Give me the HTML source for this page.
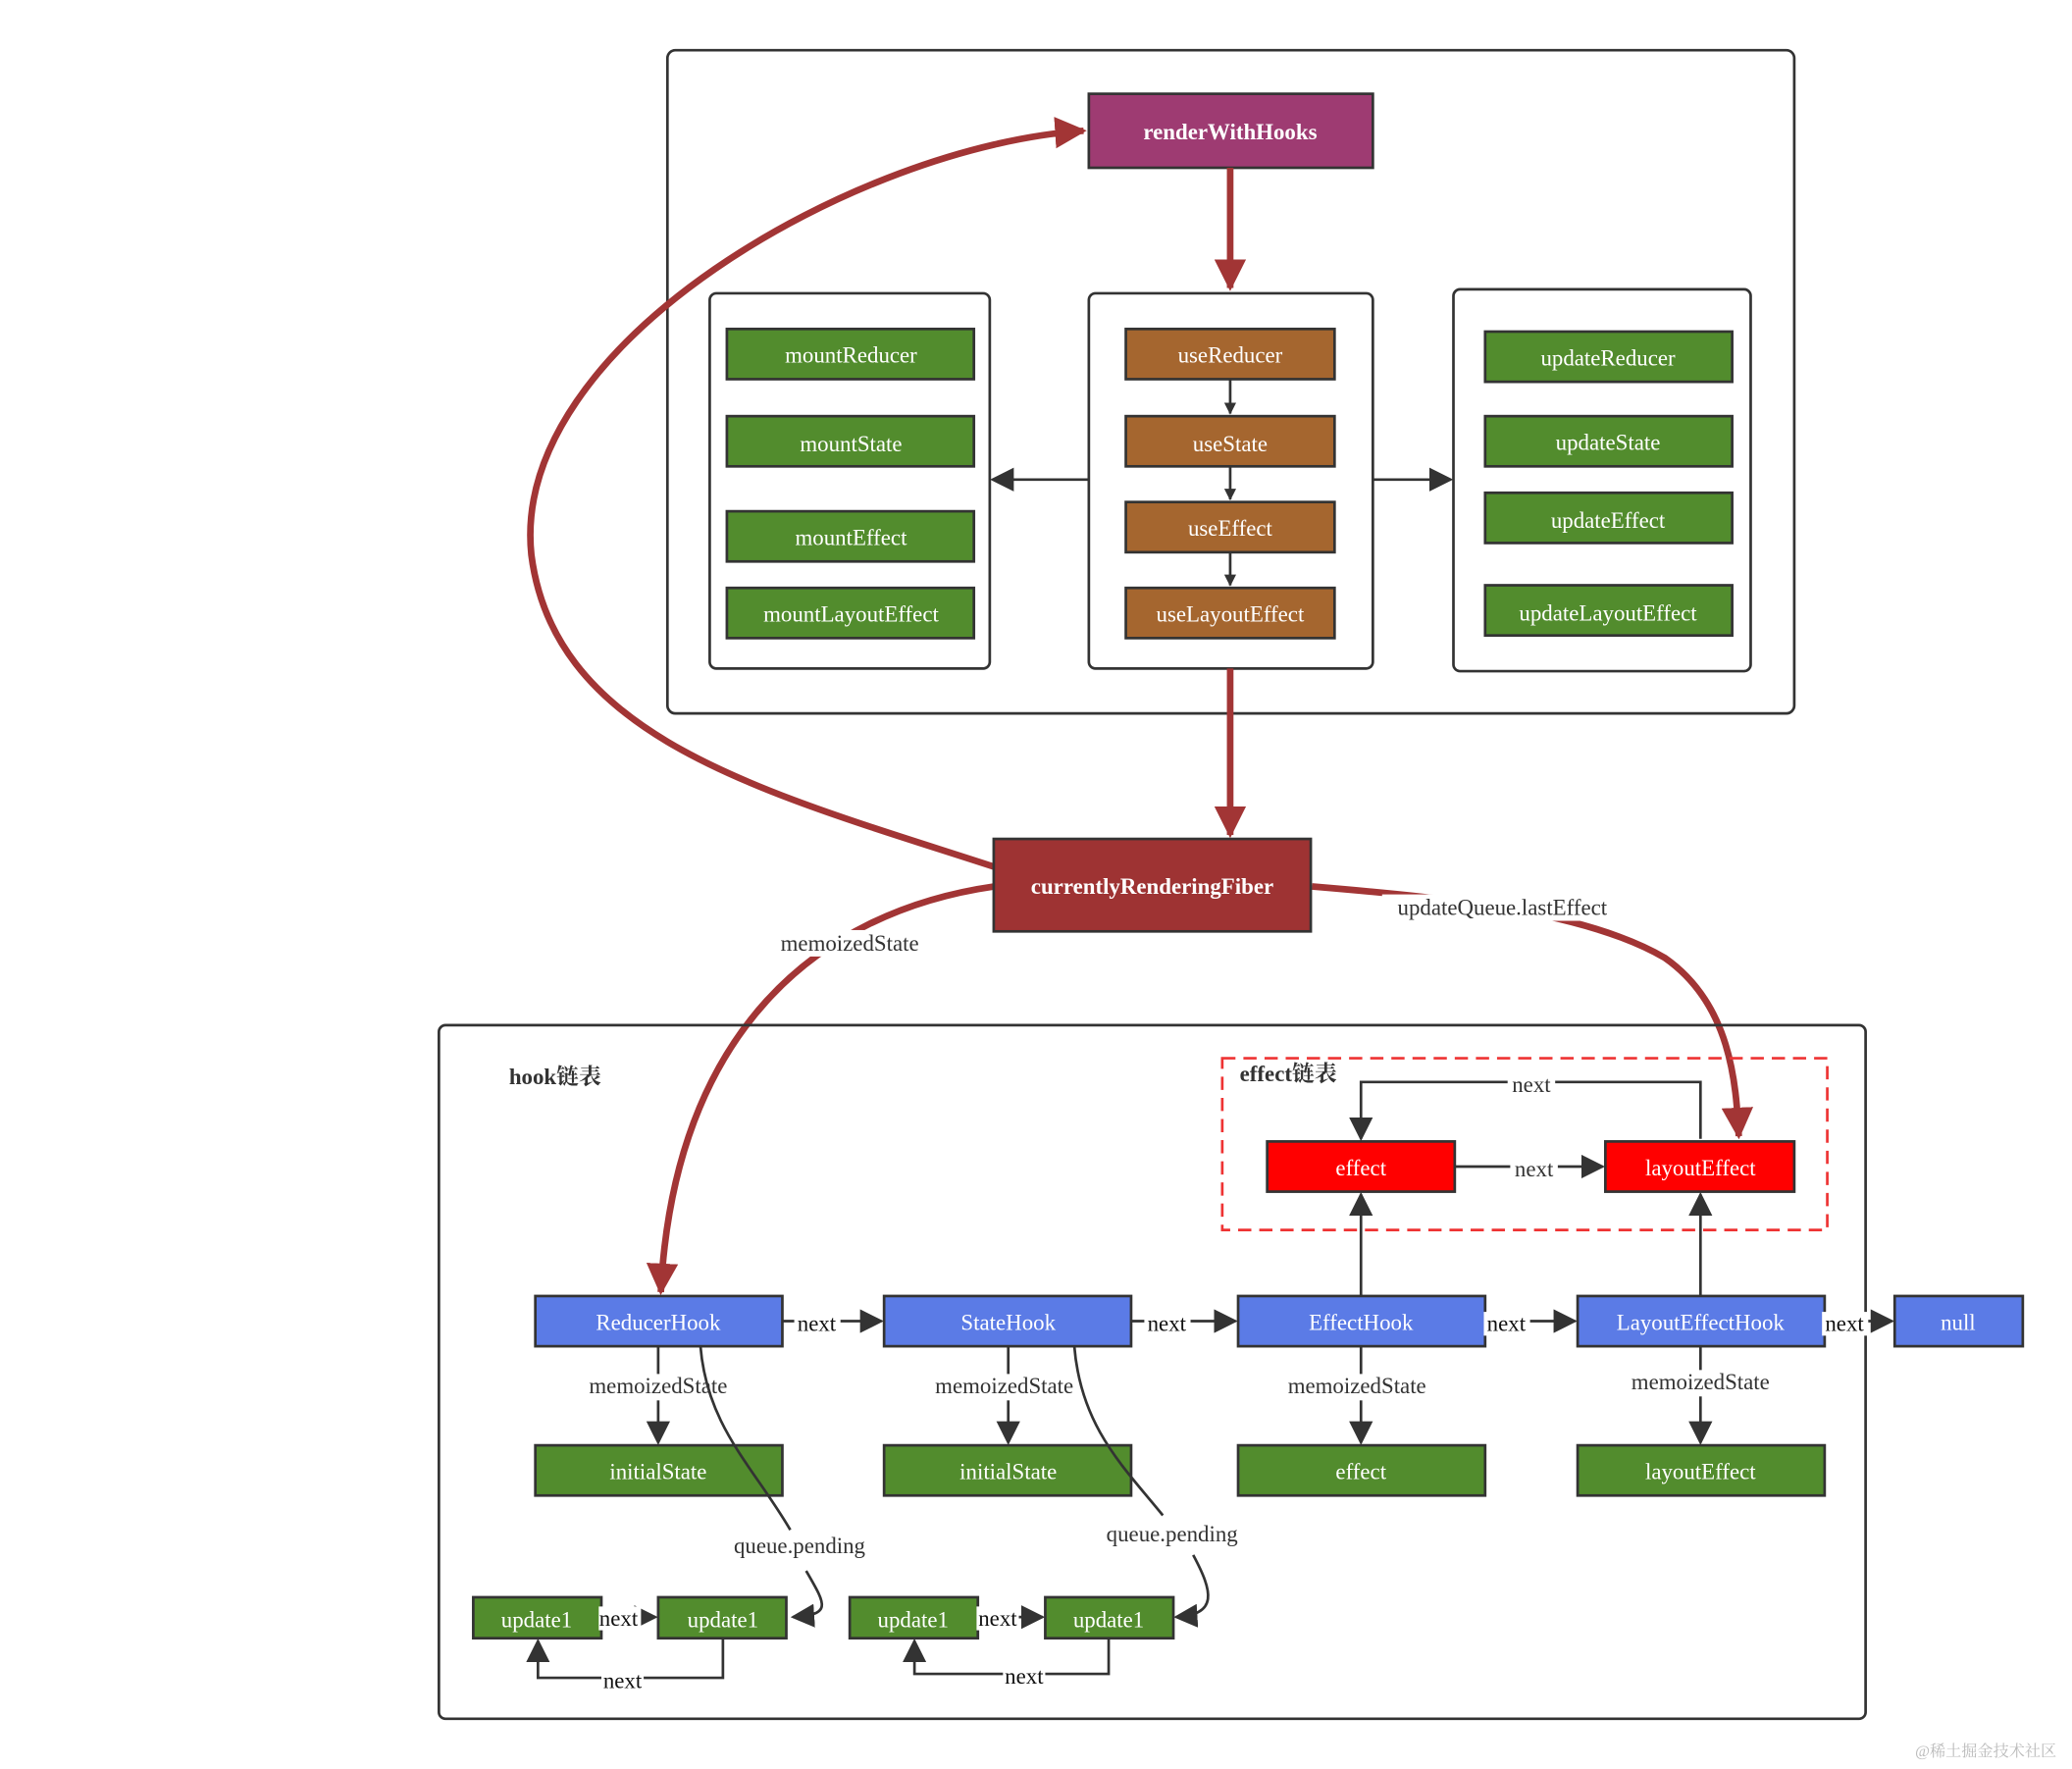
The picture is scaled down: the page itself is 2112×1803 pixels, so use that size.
<!DOCTYPE html>
<html><head><meta charset="utf-8"><style>
html,body{margin:0;padding:0;background:#fff}
svg{display:block}
text{font-family:"Liberation Serif","Noto Serif CJK SC",serif;font-size:17px;text-anchor:middle;dominant-baseline:central}
.w{fill:#fff}
.k{fill:#333}
.n{fill:none;stroke:#333;stroke-width:2}
.r{fill:none;stroke:#a23535;stroke-width:5}
.g{fill:#528c2d;stroke:#333;stroke-width:2}
.b{fill:#5b7be6;stroke:#333;stroke-width:2}
.o{fill:#a5662f;stroke:#333;stroke-width:2}
</style></head><body>
<svg width="2112" height="1803" viewBox="0 0 1568 1339" xmlns="http://www.w3.org/2000/svg">
<defs>
<marker id="a" viewBox="0 0 10 10" refX="9" refY="5" markerWidth="9" markerHeight="9" markerUnits="userSpaceOnUse" orient="auto"><path d="M0,0L10,5L0,10z" fill="#333"/></marker>
<marker id="a2" viewBox="0 0 10 10" refX="9" refY="5" markerWidth="18" markerHeight="18" markerUnits="userSpaceOnUse" orient="auto"><path d="M0,0L10,5L0,10z" fill="#333"/></marker>
<marker id="ra" viewBox="0 0 10 10" refX="9" refY="5" markerWidth="24" markerHeight="24" markerUnits="userSpaceOnUse" orient="auto"><path d="M0,0L10,5L0,10z" fill="#a23535"/></marker>
</defs>
<!-- top container -->
<rect x="505" y="38" width="853" height="502" rx="6" fill="#fff" stroke="#333" stroke-width="2"/>
<rect x="537" y="222" width="212" height="284" rx="5" fill="#fff" stroke="#333" stroke-width="2"/>
<rect x="824" y="222" width="215" height="284" rx="5" fill="#fff" stroke="#333" stroke-width="2"/>
<rect x="1100" y="219" width="225" height="289" rx="5" fill="#fff" stroke="#333" stroke-width="2"/>
<rect x="824" y="71" width="215" height="56" fill="#9e3b72" stroke="#333" stroke-width="2"/>
<text x="931" y="100" class="w" font-weight="bold">renderWithHooks</text>
<rect class="g" x="550" y="249" width="187" height="38"/><text class="w" x="644" y="269">mountReducer</text>
<rect class="g" x="550" y="315" width="187" height="38"/><text class="w" x="644" y="336">mountState</text>
<rect class="g" x="550" y="387" width="187" height="38"/><text class="w" x="644" y="407">mountEffect</text>
<rect class="g" x="550" y="445" width="187" height="38"/><text class="w" x="644" y="465">mountLayoutEffect</text>
<rect class="o" x="852" y="249" width="158" height="38"/><text class="w" x="931" y="269">useReducer</text>
<rect class="o" x="852" y="315" width="158" height="38"/><text class="w" x="931" y="336">useState</text>
<rect class="o" x="852" y="380" width="158" height="38"/><text class="w" x="931" y="400">useEffect</text>
<rect class="o" x="852" y="445" width="158" height="38"/><text class="w" x="931" y="465">useLayoutEffect</text>
<rect class="g" x="1124" y="251" width="187" height="38"/><text class="w" x="1217" y="271">updateReducer</text>
<rect class="g" x="1124" y="315" width="187" height="38"/><text class="w" x="1217" y="335">updateState</text>
<rect class="g" x="1124" y="373" width="187" height="38"/><text class="w" x="1217" y="394">updateEffect</text>
<rect class="g" x="1124" y="443" width="187" height="38"/><text class="w" x="1217" y="464">updateLayoutEffect</text>
<path class="n" d="M931 287V313" marker-end="url(#a)"/>
<path class="n" d="M931 353V378" marker-end="url(#a)"/>
<path class="n" d="M931 418V443" marker-end="url(#a)"/>
<path class="n" d="M824 363H751" marker-end="url(#a2)"/>
<path class="n" d="M1039 363H1098" marker-end="url(#a2)"/>
<!-- red arrows -->
<path class="r" d="M931 127V218" marker-end="url(#ra)"/>
<path class="r" d="M931 506V632" marker-end="url(#ra)"/>
<path class="r" d="M752 656C580 600 420 560 402 420C385 260 650 110 820 99" marker-end="url(#ra)"/>
<path class="r" d="M752 671C620 690 510 780 500 978" marker-end="url(#ra)"/>
<path class="r" d="M993 671C1100 680 1200 690 1260 725C1310 760 1314 820 1316 860" marker-end="url(#ra)"/>
<rect x="752" y="635" width="240" height="70" fill="#9e3333" stroke="#333" stroke-width="2"/>
<text x="872" y="671" class="w" font-weight="bold">currentlyRenderingFiber</text>
<rect x="582" y="704" width="122" height="20" fill="#fff"/><text x="643" y="714" class="k">memoizedState</text>
<rect x="1046" y="677" width="182" height="20" fill="#fff"/><text x="1137" y="687" class="k">updateQueue.lastEffect</text>
<!-- hook container -->
<rect x="332" y="776" width="1080" height="525" rx="5" fill="none" stroke="#333" stroke-width="2"/>
<text x="420" y="815" class="k" font-size="24" font-weight="bold">hook链表</text>
<rect x="925" y="801" width="458" height="130" fill="none" stroke="#e33" stroke-width="2" stroke-dasharray="10,6"/>
<text x="975" y="813" class="k" font-weight="bold">effect链表</text>
<rect x="959" y="864" width="142" height="38" fill="#f00" stroke="#333" stroke-width="2"/><text class="w" x="1030" y="884">effect</text>
<rect x="1215" y="864" width="143" height="38" fill="#f00" stroke="#333" stroke-width="2"/><text class="w" x="1287" y="884">layoutEffect</text>
<path class="n" d="M1101 883H1213" marker-end="url(#a2)"/>
<path class="n" d="M1287 862V819H1030V862" marker-end="url(#a2)"/>
<rect x="1143" y="876" width="36" height="18" fill="#fff"/><text class="k" x="1161" y="885">next</text>
<rect x="1141" y="812" width="36" height="18" fill="#fff"/><text class="k" x="1159" y="821">next</text>
<!-- hooks -->
<rect class="b" x="405" y="981" width="187" height="38"/><text class="w" x="498" y="1001">ReducerHook</text>
<rect class="b" x="669" y="981" width="187" height="38"/><text class="w" x="763" y="1001">StateHook</text>
<rect class="b" x="937" y="981" width="187" height="38"/><text class="w" x="1030" y="1001">EffectHook</text>
<rect class="b" x="1194" y="981" width="187" height="38"/><text class="w" x="1287" y="1001">LayoutEffectHook</text>
<rect class="b" x="1434" y="981" width="97" height="38"/><text class="w" x="1482" y="1001">null</text>
<path class="n" d="M592 1000H667" marker-end="url(#a2)"/>
<path class="n" d="M856 1000H935" marker-end="url(#a2)"/>
<path class="n" d="M1124 1000H1192" marker-end="url(#a2)"/>
<path class="n" d="M1381 1000H1432" marker-end="url(#a2)"/>
<rect x="601" y="993" width="35" height="18" fill="#fff"/><text x="618" y="1002" style="fill:#111">next</text>
<rect x="866" y="993" width="35" height="18" fill="#fff"/><text x="883" y="1002" style="fill:#111">next</text>
<rect x="1123" y="993" width="35" height="18" fill="#fff"/><text x="1140" y="1002" style="fill:#111">next</text>
<rect x="1379" y="993" width="35" height="18" fill="#fff"/><text x="1396" y="1002" style="fill:#111">next</text>
<path class="n" d="M1030 981V904" marker-end="url(#a2)"/>
<path class="n" d="M1287 981V904" marker-end="url(#a2)"/>
<rect class="g" x="405" y="1094" width="187" height="38"/><text class="w" x="498" y="1114">initialState</text>
<rect class="g" x="669" y="1094" width="187" height="38"/><text class="w" x="763" y="1114">initialState</text>
<rect class="g" x="937" y="1094" width="187" height="38"/><text class="w" x="1030" y="1114">effect</text>
<rect class="g" x="1194" y="1094" width="187" height="38"/><text class="w" x="1287" y="1114">layoutEffect</text>
<path class="n" d="M498 1019V1092" marker-end="url(#a2)"/>
<path class="n" d="M763 1019V1092" marker-end="url(#a2)"/>
<path class="n" d="M1030 1019V1092" marker-end="url(#a2)"/>
<path class="n" d="M1287 1019V1092" marker-end="url(#a2)"/>
<rect x="438" y="1040" width="120" height="20" fill="#fff"/><text class="k" x="498" y="1049">memoizedState</text>
<rect x="700" y="1040" width="120" height="20" fill="#fff"/><text class="k" x="760" y="1049">memoizedState</text>
<rect x="967" y="1040" width="120" height="20" fill="#fff"/><text class="k" x="1027" y="1049">memoizedState</text>
<rect x="1227" y="1037" width="120" height="20" fill="#fff"/><text class="k" x="1287" y="1046">memoizedState</text>
<!-- queue pending -->
<path class="n" d="M530 1019C535 1080 570 1110 598 1158"/>
<path class="n" d="M610 1189C625 1215 630 1222 600 1224" marker-end="url(#a2)"/>
<path class="n" d="M813 1019C818 1080 850 1110 880 1147"/>
<path class="n" d="M903 1177C918 1205 922 1222 890 1224" marker-end="url(#a2)"/>
<text class="k" x="605" y="1170">queue.pending</text>
<text class="k" x="887" y="1161">queue.pending</text>
<rect class="g" x="358" y="1209" width="97" height="31"/><text class="w" x="406" y="1226">update1</text>
<rect class="g" x="498" y="1209" width="97" height="31"/><text class="w" x="547" y="1226">update1</text>
<rect class="g" x="643" y="1209" width="97" height="31"/><text class="w" x="691" y="1226">update1</text>
<rect class="g" x="791" y="1209" width="97" height="31"/><text class="w" x="839" y="1226">update1</text>
<path class="n" d="M455 1224H496" marker-end="url(#a2)"/>
<path class="n" d="M740 1224H789" marker-end="url(#a2)"/>
<rect x="453" y="1216" width="32" height="18" fill="#fff"/><text x="468" y="1225" style="fill:#111">next</text>
<rect x="739" y="1216" width="32" height="18" fill="#fff"/><text x="755" y="1225" style="fill:#111">next</text>
<path class="n" d="M547 1240V1270H407V1242" marker-end="url(#a2)"/>
<path class="n" d="M839 1240V1267H692V1242" marker-end="url(#a2)"/>
<rect x="455" y="1263" width="32" height="18" fill="#fff"/><text x="471" y="1272" style="fill:#111">next</text>
<rect x="759" y="1260" width="32" height="18" fill="#fff"/><text x="775" y="1269" style="fill:#111">next</text>
<text x="1503" y="1326" style="fill:#bbb;font-size:12px">@稀土掘金技术社区</text>
</svg>
</body></html>
